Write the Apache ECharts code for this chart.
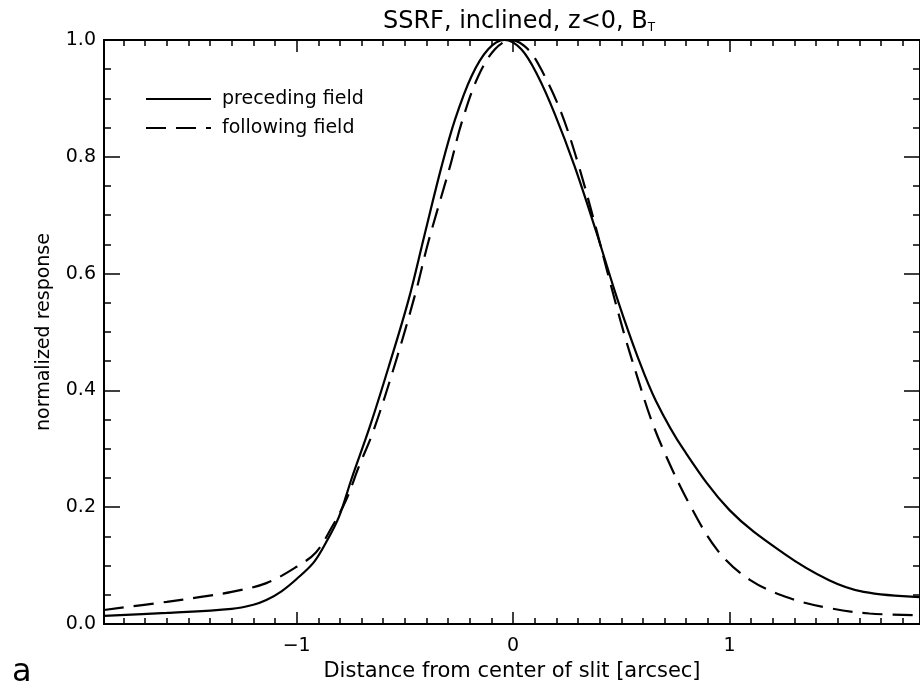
<!DOCTYPE html>
<html>
<head>
<meta charset="utf-8">
<title>SSRF, inclined, z&lt;0, B_T</title>
<script src="https://cdn.jsdelivr.net/npm/echarts@6/dist/echarts.min.js"></script>
<style>
  html, body { margin: 0; padding: 0; background: #fff; }
  #main { width: 920px; height: 692px; }
</style>
</head>
<body>
<div id="main"></div>
<script>
// preceding field (solid)
var precX = [-1.89, -1.6, -1.3, -1.2, -1.14, -1.07, -1.0, -0.92, -0.865, -0.805, -0.745, -0.66, -0.575, -0.483, -0.41, -0.33, -0.268, -0.192, -0.115, -0.04, 0.038, 0.115, 0.192, 0.284, 0.383, 0.483, 0.575, 0.66, 0.789, 1.0, 1.25, 1.46, 1.62, 1.88];
var precY = [0.014, 0.019, 0.026, 0.033, 0.041, 0.056, 0.077, 0.106, 0.139, 0.183, 0.250, 0.340, 0.440, 0.555, 0.665, 0.784, 0.864, 0.938, 0.984, 1.0, 0.984, 0.938, 0.874, 0.784, 0.673, 0.555, 0.458, 0.382, 0.298, 0.195, 0.121, 0.075, 0.055, 0.046];

// following field (dashed)
var follX = [-1.89, -1.6, -1.45, -1.3, -1.14, -1.0, -0.91, -0.837, -0.772, -0.713, -0.644, -0.544, -0.452, -0.391, -0.291, -0.238, -0.161, -0.084, -0.01, 0.069, 0.138, 0.222, 0.299, 0.383, 0.437, 0.513, 0.575, 0.636, 0.697, 0.805, 0.943, 1.096, 1.28, 1.464, 1.647, 1.88];
var follY = [0.024, 0.038, 0.046, 0.055, 0.070, 0.098, 0.123, 0.166, 0.212, 0.269, 0.332, 0.447, 0.565, 0.655, 0.784, 0.858, 0.938, 0.984, 1.0, 0.984, 0.944, 0.876, 0.790, 0.678, 0.601, 0.497, 0.422, 0.352, 0.296, 0.212, 0.127, 0.075, 0.044, 0.027, 0.018, 0.015];

var xMin = -1.89, xMax = 1.88;
var xMajor = [-1, 0, 1];
var xMinor = [-1.8, -1.7, -1.6, -1.5, -1.4, -1.3, -1.2, -1.1, -0.9, -0.8, -0.7, -0.6, -0.5, -0.4, -0.3, -0.2, -0.1,
              0.1, 0.2, 0.3, 0.4, 0.5, 0.6, 0.7, 0.8, 0.9, 1.1, 1.2, 1.3, 1.4, 1.5, 1.6, 1.7, 1.8];

var font = 'DejaVu Sans';
var black = '#000';

function pairs(xs, ys) {
    return xs.map(function (x, i) { return [x, ys[i]]; });
}

function xAxisDef(pos, ticks, len, withLabel) {
    return {
        type: 'value', position: pos, min: xMin, max: xMax,
        axisLine: { show: true, onZero: false, lineStyle: { color: black, width: 2 } },
        axisTick: { show: true, inside: true, length: len, customValues: ticks, lineStyle: { color: black, width: 1.5 } },
        axisLabel: withLabel ? {
            show: true, customValues: xMajor, margin: 13, color: black,
            fontFamily: font, fontSize: 19,
            formatter: function (v) { return v < 0 ? '\u2212' + Math.abs(v) : String(v); }
        } : { show: false },
        splitLine: { show: false }
    };
}

function yAxisDef(pos, withLabel) {
    return {
        type: 'value', position: pos, min: 0, max: 1, interval: 0.2,
        axisLine: { show: true, onZero: false, lineStyle: { color: black, width: 2 } },
        axisTick: { show: true, inside: true, length: 16, lineStyle: { color: black, width: 1.5 } },
        minorTick: { show: true, splitNumber: 4, length: 7, lineStyle: { color: black, width: 1.5 } },
        axisLabel: withLabel ? {
            show: true, margin: 8, color: black, fontFamily: font, fontSize: 19,
            formatter: function (v) { return v.toFixed(1); }
        } : { show: false },
        splitLine: { show: false },
        minorSplitLine: { show: false }
    };
}

var myChart = echarts.init(document.getElementById('main'));

var xBottom = xAxisDef('bottom', xMajor, 12, true);
xBottom.name = 'Distance from center of slit [arcsec]';
xBottom.nameLocation = 'middle';
xBottom.nameGap = 37;
xBottom.nameTextStyle = { color: black, fontFamily: font, fontSize: 21 };

var yLeft = yAxisDef('left', true);
yLeft.name = 'normalized response';
yLeft.nameLocation = 'middle';
yLeft.nameGap = 50;
yLeft.nameTextStyle = { color: black, fontFamily: font, fontSize: 19 };

var option = {
    backgroundColor: '#fff',
    animation: false,
    title: {
        text: 'SSRF, inclined, z<0, B{sub|T}',
        left: 514, top: 5, textAlign: 'center',
        textStyle: {
            color: black, fontFamily: font, fontSize: 24, fontWeight: 'normal',
            rich: { sub: { fontFamily: font, fontSize: 12, color: black, verticalAlign: 'bottom', padding: [11, 0, 0, 0] } }
        }
    },
    legend: {
        orient: 'vertical', left: 140, top: 84,
        itemWidth: 65, itemHeight: 14, itemGap: 9,
        itemStyle: { opacity: 0 },
        lineStyle: { width: 2 },
        textStyle: { color: black, fontFamily: font, fontSize: 19, lineHeight: 20, padding: [0, 0, 0, 6] },
        data: ['preceding field', 'following field']
    },
    grid: { left: 104, right: -4, top: 40, bottom: 68, containLabel: false },
    xAxis: [
        xBottom,
        xAxisDef('bottom', xMinor, 6, false),
        xAxisDef('top', xMajor, 12, false),
        xAxisDef('top', xMinor, 6, false)
    ],
    yAxis: [yLeft, yAxisDef('right', false)],
    graphic: [{
        type: 'text', left: 12, top: 657,
        style: { text: 'a', fill: black, font: '32px "DejaVu Sans"' }
    }],
    series: [{
        name: 'preceding field',
        type: 'line',
        data: pairs(precX, precY),
        smooth: 0.35,
        symbol: 'none',
        itemStyle: { color: black },
        lineStyle: { color: black, width: 2.2, type: 'solid' }
    }, {
        name: 'following field',
        type: 'line',
        data: pairs(follX, follY),
        smooth: 0.35,
        symbol: 'none',
        itemStyle: { color: black },
        lineStyle: { color: black, width: 2.2, type: [20, 10] }
    }]
};

myChart.setOption(option);
</script>
</body>
</html>
